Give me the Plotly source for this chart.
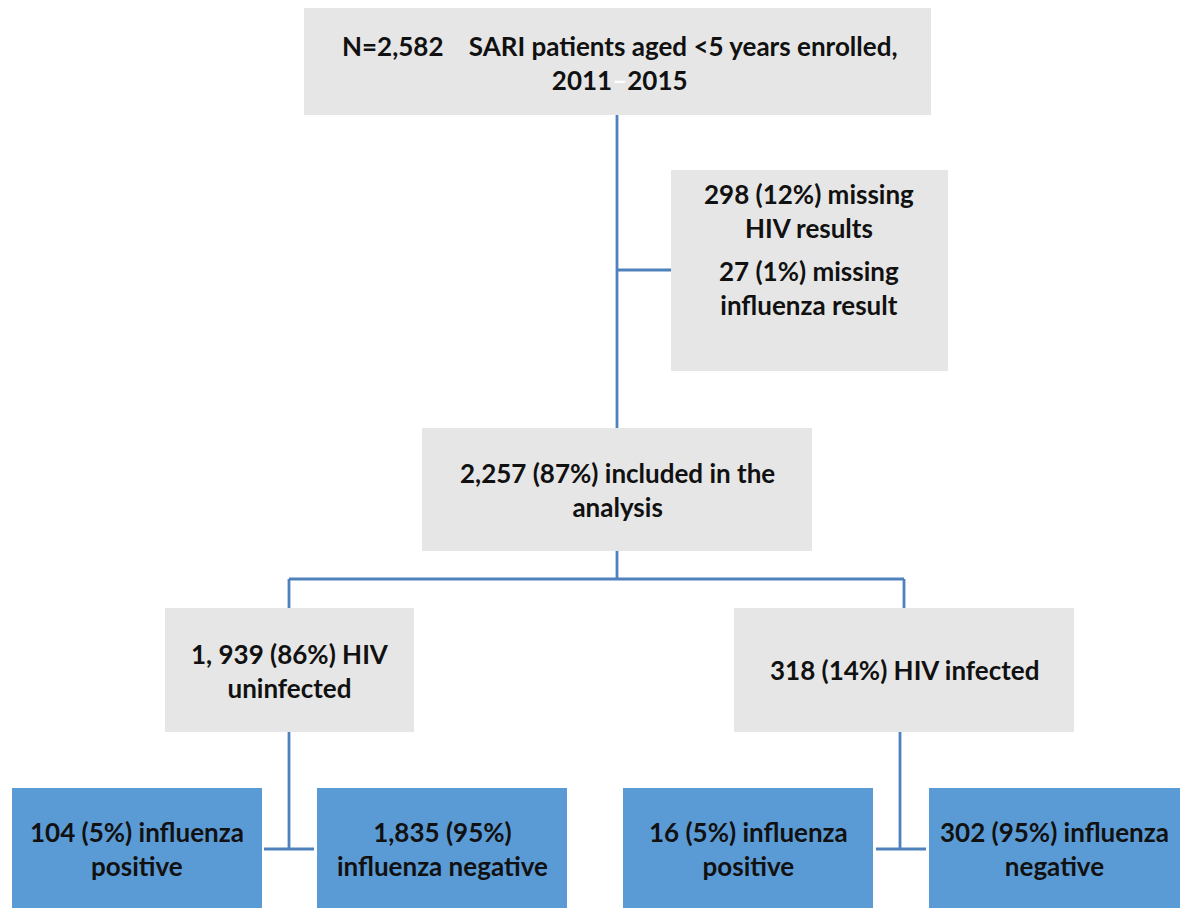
import plotly.graph_objects as go

# ---- data (text content of the flowchart) ----
labels = [
    "N=2,582 &nbsp;&nbsp;&nbsp;SARI patients aged &lt;5 years enrolled,<br>2011<span style='color:#ffffff'>–</span>2015",
    "298 (12%) missing<br>HIV results",
    "27 (1%) missing<br>influenza result",
    "2,257 (87%) included in the<br>analysis",
    "1, 939 (86%) HIV<br>uninfected",
    "318 (14%) HIV infected",
    "104 (5%) influenza<br>positive",
    "1,835 (95%)<br>influenza negative",
    "16 (5%) influenza<br>positive",
    "302 (95%) influenza<br>negative",
]

# ---- layout geometry (pixel space) ----
W, H = 1183, 908
GRAY = "#e6e6e6"
BLUE = "#5b9bd5"
LINE = "#4f81bd"

# boxes: x0, x1, y0, y1, color
boxes = [
    (304, 931, 8, 115, GRAY),
    (671, 948, 170, 371, GRAY),
    (422, 812, 428, 551, GRAY),
    (165, 414, 608, 732, GRAY),
    (734, 1074, 608, 732, GRAY),
    (12, 262, 788, 908, BLUE),
    (317, 567, 788, 908, BLUE),
    (623, 873, 788, 908, BLUE),
    (929, 1180, 788, 908, BLUE),
]
# label anchor positions (x, y center)
label_pos = [
    (619, 63),
    (809, 211),
    (809, 288),
    (617, 490),
    (290, 671),
    (904, 670),
    (137, 849),
    (442, 849),
    (748, 849),
    (1054, 849),
]
# connector segments
segments = [
    (617, 115, 617, 428),
    (617, 270, 671, 270),
    (617, 551, 617, 579),
    (289, 579, 904, 579),
    (289, 579, 289, 608),
    (904, 579, 904, 608),
    (289, 732, 289, 849),
    (264, 849, 314, 849),
    (900, 732, 900, 849),
    (876, 849, 926, 849),
]

fig = go.Figure()
shapes = []
for x0, x1, y0, y1, c in boxes:
    shapes.append(dict(type="rect", xref="x", yref="y", x0=x0, x1=x1, y0=y0, y1=y1,
                       fillcolor=c, line=dict(width=0), layer="below"))
for x0, y0, x1, y1 in segments:
    shapes.append(dict(type="line", xref="x", yref="y", x0=x0, y0=y0, x1=x1, y1=y1,
                       line=dict(color=LINE, width=2.8), layer="above"))

annotations = []
for txt, (x, y) in zip(labels, label_pos):
    annotations.append(dict(x=x, y=y, xref="x", yref="y", text="<b>" + txt + "</b>",
                            showarrow=False, align="center",
                            font=dict(family="Lato", size=26, color="#111111")))

fig.update_layout(
    width=W, height=H,
    margin=dict(l=0, r=0, t=0, b=0),
    paper_bgcolor="white", plot_bgcolor="white",
    shapes=shapes, annotations=annotations,
    xaxis=dict(range=[0, W], visible=False, fixedrange=True),
    yaxis=dict(range=[H, 0], visible=False, fixedrange=True),
    showlegend=False,
)
fig.write_html("out.html", config={"displayModeBar": False},
               post_script="document.body.style.margin='0';document.body.style.overflow='hidden';")
